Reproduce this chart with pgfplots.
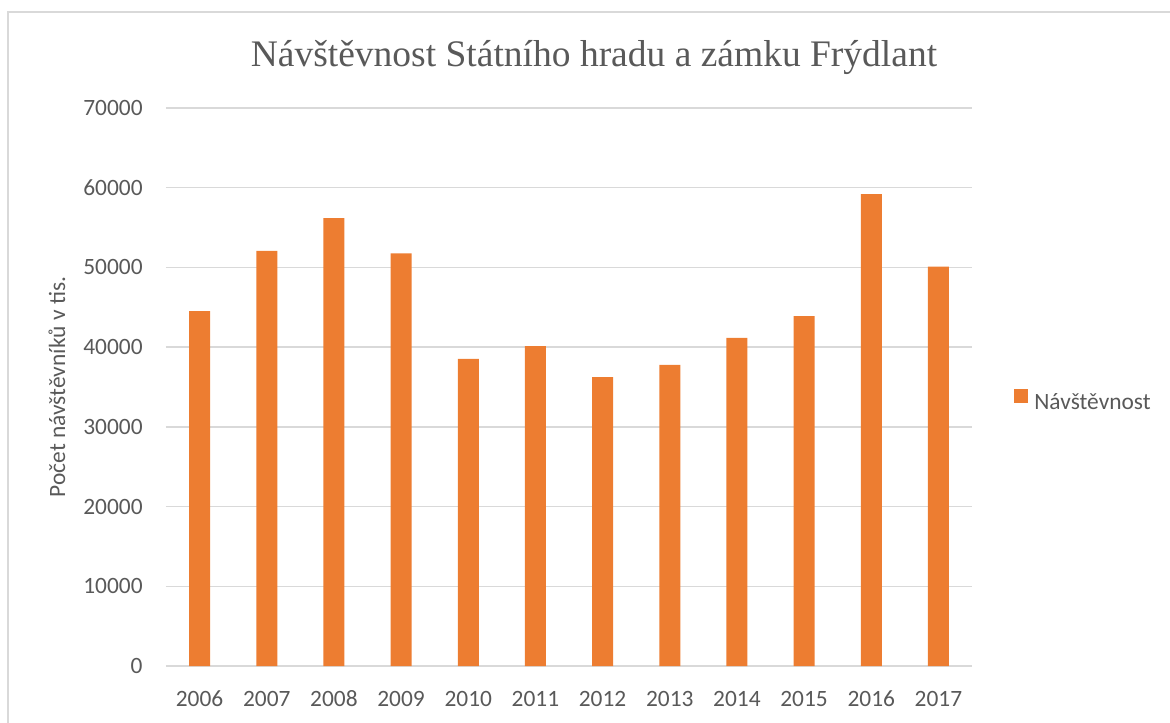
\documentclass[border=0pt]{standalone}
\usepackage{fontspec}
\setmainfont{Carlito}
\newfontfamily\titlefont{Liberation Serif}
\usepackage{pgfplots}
\pgfplotsset{compat=1.18}
\definecolor{txt}{HTML}{595959}
\definecolor{gridc}{HTML}{D9D9D9}
\definecolor{barc}{HTML}{ED7D31}
\begin{document}
\begin{tikzpicture}
\path[use as bounding box] (-83pt,-28pt) rectangle (502pt,333pt);
\draw[gridc, line width=0.6pt] (-79pt,-40pt) -- (-79pt,327pt) -- (520pt,327pt);
\begin{axis}[
  at={(0pt,0pt)}, anchor=south west,
  scale only axis, width=403pt, height=279pt,
  ybar, bar width=10.5pt,
  xmin=-0.5, xmax=11.5, ymin=0, ymax=70000,
  scaled y ticks=false, scaled x ticks=false,
  xtick={0,1,2,3,4,5,6,7,8,9,10,11},
  xticklabels={2006,2007,2008,2009,2010,2011,2012,2013,2014,2015,2016,2017},
  ytick={0,10000,20000,30000,40000,50000,60000,70000},
  yticklabels={0,10000,20000,30000,40000,50000,60000,70000},
  ymajorgrids, grid style={gridc, line width=0.75pt},
  axis line style={draw=none}, major tick length=0pt,
  tick label style={font=\fontsize{11.7}{14}\selectfont, text=txt},
  yticklabel style={anchor=east, inner sep=0pt, xshift=-11.5pt},
  xticklabel style={anchor=base, inner sep=0pt, yshift=-20pt},
  ylabel={Počet návštěvníků v tis.},
  every axis y label/.style={at={(axis description cs:-0.1253,0.5)}, rotate=90, anchor=base, font=\fontsize{11.7}{14}\selectfont, text=txt},
  title={Návštěvnost Státního hradu a zámku Frýdlant},
  every axis title/.style={at={(axis description cs:0.531,1.0735)}, anchor=base, font=\titlefont\fontsize{18.75}{22}\selectfont, text=txt},
  legend style={draw=none, fill=none, at={(axis description cs:1.052,0.476)}, anchor=west, inner sep=0pt, font=\fontsize{11.7}{14}\selectfont, text=txt, nodes={inner sep=0pt}, /tikz/every odd column/.style={column sep=3pt}},
  legend image code/.code={\fill[#1] (0pt,0pt) rectangle (7pt,7pt);},
]
\addplot[fill=barc, draw=none] coordinates {
  (0,44510) (1,52090) (2,56190) (3,51750) (4,38530) (5,40125)
  (6,36240) (7,37780) (8,41165) (9,43885) (10,59210) (11,50090)
};
\addlegendentry{Návštěvnost}
\end{axis}
\end{tikzpicture}
\end{document}
